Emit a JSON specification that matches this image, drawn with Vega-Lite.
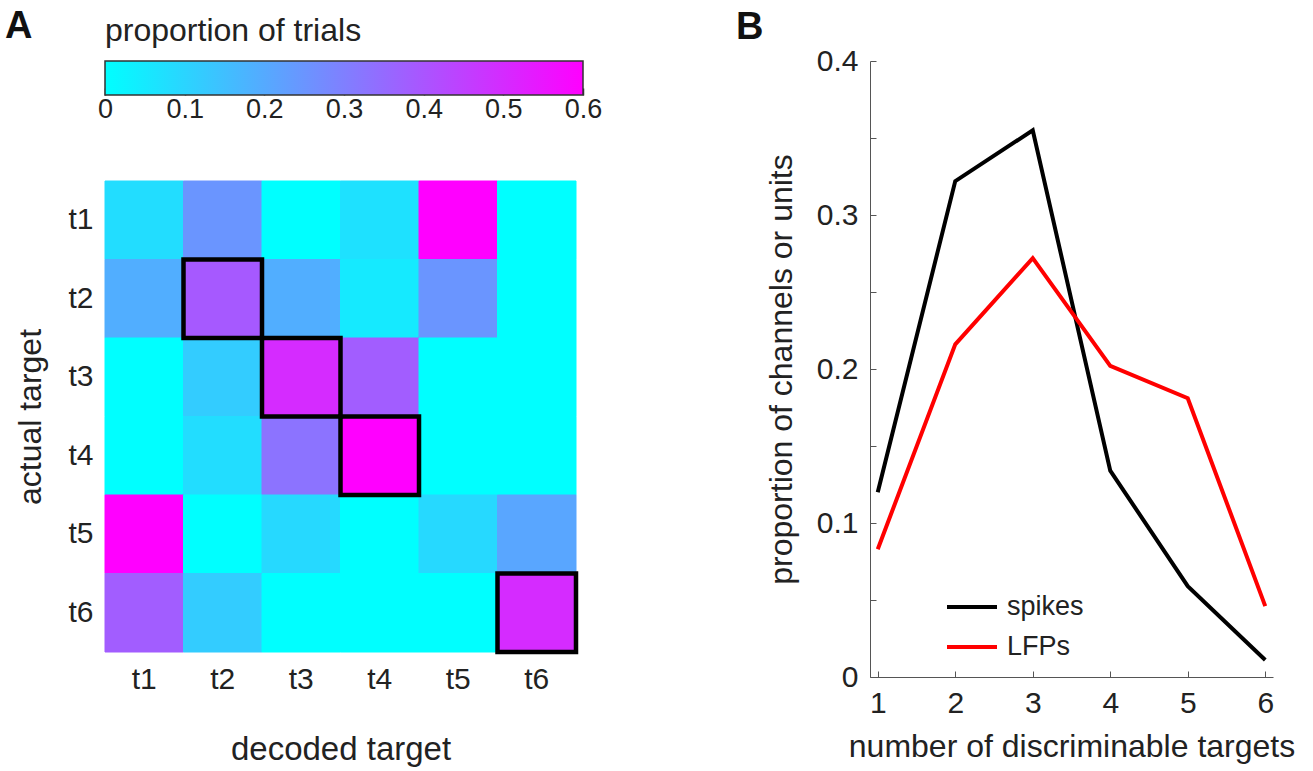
{
  "$schema": "https://vega.github.io/schema/vega-lite/v6.json",
  "background": "white",
  "padding": {"left": 5, "top": 8, "right": 5, "bottom": 5},
  "config": {
    "font": "Liberation Sans",
    "view": {"stroke": null},
    "axis": {"labelColor": "#222222", "titleColor": "#222222", "titleFontWeight": "normal", "grid": false},
    "title": {"color": "#111111"}
  },
  "spacing": 134,
  "hconcat": [
    {
      "title": {"text": "A", "anchor": "start", "frame": "group", "fontSize": 38, "fontWeight": "bold", "dx": -100, "offset": -31},
      "spacing": 58,
      "vconcat": [
        {
          "title": {"text": "proportion of trials", "anchor": "start", "frame": "group", "fontSize": 32, "fontWeight": "normal", "color": "#222222", "offset": 12},
          "width": 478,
          "height": 34,
          "data": {"values": [{"lo": 0, "hi": 0.6, "b": 0, "t": 1}]},
          "encoding": {
            "y": {"field": "b", "type": "quantitative", "scale": {"domain": [0, 1], "nice": false}, "axis": null},
            "y2": {"field": "t"},
            "x2": {"field": "hi"}
          },
          "layer": [
            {
              "mark": {
                "type": "rect",
                "fill": {"gradient": "linear", "x1": 0, "y1": 0, "x2": 1, "y2": 0, "stops": [{"offset": 0, "color": "#00ffff"}, {"offset": 1, "color": "#ff00ff"}]},
                "stroke": "#333333",
                "strokeWidth": 1.5
              },
              "encoding": {
                "x": {
                  "field": "lo", "type": "quantitative",
                  "scale": {"domain": [0, 0.6], "nice": false},
                  "axis": {"values": [0, 0.1, 0.2, 0.3, 0.4, 0.5, 0.6], "title": null, "domain": false, "tickSize": -7, "tickColor": "#333333", "tickWidth": 1.5, "labelFontSize": 27, "labelPadding": 8, "labelFlush": false, "format": "~g"}
                }
              }
            },
            {
              "mark": {"type": "rect", "fillOpacity": 0, "strokeOpacity": 0},
              "encoding": {
                "x": {
                  "field": "lo", "type": "quantitative",
                  "scale": {"domain": [0, 0.6], "nice": false},
                  "axis": {"orient": "top", "values": [0.1, 0.2, 0.3, 0.4, 0.5], "title": null, "labels": false, "domain": false, "tickSize": -7, "tickColor": "#333333", "tickWidth": 1.5}
                }
              }
            }
          ],
          "resolve": {"axis": {"x": "independent"}}
        },
        {
          "width": 471,
          "height": 471,
          "data": {"values": [
            {"actual": "t1", "decoded": "t1", "p": 0.08, "outlined": false},
            {"actual": "t1", "decoded": "t2", "p": 0.25, "outlined": false},
            {"actual": "t1", "decoded": "t3", "p": 0.0, "outlined": false},
            {"actual": "t1", "decoded": "t4", "p": 0.07, "outlined": false},
            {"actual": "t1", "decoded": "t5", "p": 0.6, "outlined": false},
            {"actual": "t1", "decoded": "t6", "p": 0.0, "outlined": false},
            {"actual": "t2", "decoded": "t1", "p": 0.19, "outlined": false},
            {"actual": "t2", "decoded": "t2", "p": 0.39, "outlined": true},
            {"actual": "t2", "decoded": "t3", "p": 0.19, "outlined": false},
            {"actual": "t2", "decoded": "t4", "p": 0.05, "outlined": false},
            {"actual": "t2", "decoded": "t5", "p": 0.25, "outlined": false},
            {"actual": "t2", "decoded": "t6", "p": 0.0, "outlined": false},
            {"actual": "t3", "decoded": "t1", "p": 0.0, "outlined": false},
            {"actual": "t3", "decoded": "t2", "p": 0.12, "outlined": false},
            {"actual": "t3", "decoded": "t3", "p": 0.5, "outlined": true},
            {"actual": "t3", "decoded": "t4", "p": 0.38, "outlined": false},
            {"actual": "t3", "decoded": "t5", "p": 0.0, "outlined": false},
            {"actual": "t3", "decoded": "t6", "p": 0.0, "outlined": false},
            {"actual": "t4", "decoded": "t1", "p": 0.0, "outlined": false},
            {"actual": "t4", "decoded": "t2", "p": 0.08, "outlined": false},
            {"actual": "t4", "decoded": "t3", "p": 0.33, "outlined": false},
            {"actual": "t4", "decoded": "t4", "p": 0.6, "outlined": true},
            {"actual": "t4", "decoded": "t5", "p": 0.0, "outlined": false},
            {"actual": "t4", "decoded": "t6", "p": 0.0, "outlined": false},
            {"actual": "t5", "decoded": "t1", "p": 0.6, "outlined": false},
            {"actual": "t5", "decoded": "t2", "p": 0.0, "outlined": false},
            {"actual": "t5", "decoded": "t3", "p": 0.09, "outlined": false},
            {"actual": "t5", "decoded": "t4", "p": 0.0, "outlined": false},
            {"actual": "t5", "decoded": "t5", "p": 0.09, "outlined": false},
            {"actual": "t5", "decoded": "t6", "p": 0.21, "outlined": false},
            {"actual": "t6", "decoded": "t1", "p": 0.38, "outlined": false},
            {"actual": "t6", "decoded": "t2", "p": 0.12, "outlined": false},
            {"actual": "t6", "decoded": "t3", "p": 0.0, "outlined": false},
            {"actual": "t6", "decoded": "t4", "p": 0.0, "outlined": false},
            {"actual": "t6", "decoded": "t5", "p": 0.0, "outlined": false},
            {"actual": "t6", "decoded": "t6", "p": 0.5, "outlined": true}
          ]},
          "encoding": {
            "x": {
              "field": "decoded", "type": "nominal", "sort": ["t1", "t2", "t3", "t4", "t5", "t6"],
              "scale": {"paddingInner": 0, "paddingOuter": 0},
              "axis": {"title": "decoded target", "titleFontSize": 33, "titlePadding": 39, "labelFontSize": 30, "labelAngle": 0, "ticks": false, "domain": false, "labelPadding": 12}
            },
            "y": {
              "field": "actual", "type": "nominal", "sort": ["t1", "t2", "t3", "t4", "t5", "t6"],
              "scale": {"paddingInner": 0, "paddingOuter": 0},
              "axis": {"title": "actual target", "titleFontSize": 32, "titlePadding": 20, "labelFontSize": 30, "ticks": false, "domain": false, "labelPadding": 12}
            }
          },
          "layer": [
            {
              "mark": {"type": "rect", "strokeWidth": 1},
              "encoding": {
                "color": {"field": "p", "type": "quantitative", "scale": {"domain": [0, 0.6], "range": ["#00ffff", "#ff00ff"], "interpolate": "rgb"}, "legend": null},
                "stroke": {"field": "p", "type": "quantitative", "scale": {"domain": [0, 0.6], "range": ["#00ffff", "#ff00ff"], "interpolate": "rgb"}, "legend": null}
              }
            },
            {
              "transform": [{"filter": "datum.outlined"}],
              "mark": {"type": "rect", "fillOpacity": 0, "stroke": "#000000", "strokeWidth": 4.5},
              "encoding": {}
            }
          ]
        }
      ]
    },
    {
      "title": {"text": "B", "anchor": "start", "frame": "group", "fontSize": 38, "fontWeight": "bold", "dx": -134, "offset": -1},
      "width": 403,
      "height": 616,
      "data": {"values": [
        {"n": 1, "type": "spikes", "p": 0.12},
        {"n": 2, "type": "spikes", "p": 0.322},
        {"n": 3, "type": "spikes", "p": 0.355},
        {"n": 4, "type": "spikes", "p": 0.134},
        {"n": 5, "type": "spikes", "p": 0.059},
        {"n": 6, "type": "spikes", "p": 0.011},
        {"n": 1, "type": "LFPs", "p": 0.083},
        {"n": 2, "type": "LFPs", "p": 0.216},
        {"n": 3, "type": "LFPs", "p": 0.272},
        {"n": 4, "type": "LFPs", "p": 0.202},
        {"n": 5, "type": "LFPs", "p": 0.181},
        {"n": 6, "type": "LFPs", "p": 0.046}
      ]},
      "mark": {"type": "line", "strokeWidth": 4},
      "encoding": {
        "x": {
          "field": "n", "type": "quantitative",
          "scale": {"domain": [0.9, 6.1], "nice": false, "zero": false},
          "axis": {"values": [1, 2, 3, 4, 5, 6], "title": "number of discriminable targets", "titleFontSize": 32, "titlePadding": 13, "labelFontSize": 30, "tickSize": -6, "tickColor": "#555555", "domainColor": "#555555", "labelPadding": 17}
        },
        "y": {
          "field": "p", "type": "quantitative",
          "scale": {"domain": [0, 0.4], "nice": false},
          "axis": {"values": [0, 0.05, 0.1, 0.15, 0.2, 0.25, 0.3, 0.35, 0.4], "labelExpr": "datum.value == 0 ? '0' : (round(datum.value * 100) % 10 == 0 ? format(datum.value, '.1f') : '')", "title": "proportion of channels or units", "titleFontSize": 32, "titlePadding": 18, "labelFontSize": 30, "tickSize": -6, "tickColor": "#555555", "domainColor": "#555555", "labelPadding": 18}
        },
        "color": {
          "field": "type", "type": "nominal",
          "scale": {"domain": ["spikes", "LFPs"], "range": ["#000000", "#ff0000"]},
          "legend": {"orient": "none", "legendX": 75, "legendY": 519, "title": null, "symbolType": "stroke", "symbolSize": 2500, "symbolStrokeWidth": 4, "labelFontSize": 27, "labelColor": "#222222", "rowPadding": -6, "labelOffset": 8}
        }
      }
    }
  ]
}
